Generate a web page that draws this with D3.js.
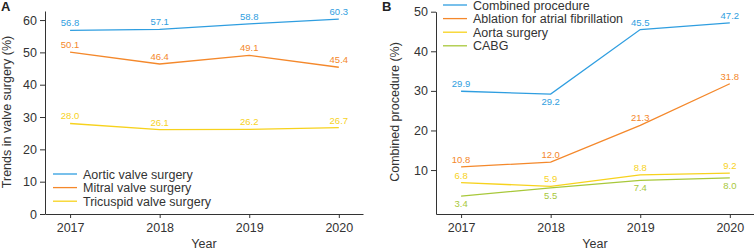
<!DOCTYPE html>
<html lang="en">
<head>
    <meta charset="UTF-8">
    <title>Valve surgery trends</title>
    <script src="https://d3js.org/d3.v7.min.js"></script>
    <style>
        body { margin: 0; background: #fff; }
        svg { font-family: "Liberation Sans", Arial, sans-serif; }
    </style>
</head>
<body>
    <div id="chart"></div>

    <script>
        // data
        const years = [2017, 2018, 2019, 2020];

        const aortic = [56.8, 57.1, 58.8, 60.3];
        const mitral = [50.1, 46.4, 49.1, 45.4];
        const tricuspid = [28.0, 26.1, 26.2, 26.7];

        const combined = [29.9, 29.2, 45.5, 47.2];
        const ablation = [10.8, 12.0, 21.3, 31.8];
        const aorta = [6.8, 5.9, 8.8, 9.2];
        const cabg = [3.4, 5.5, 7.4, 8.0];

        const ticksA = [0, 10, 20, 30, 40, 50, 60];
        const ticksB = [10, 20, 30, 40, 50];

        const blue = "#2f9ee0", orange = "#f4882b", yellow = "#f7d21d", green = "#a8c83a";

        const svg = d3.select("#chart")
            .append("svg")
            .attr("width", 754)
            .attr("height", 249);

        // label position: 1 = above, -1 = below
        function drawPanel(opt) {
            const g = svg.append("g");

            const x = d3.scaleLinear()
                .domain([2016.72, 2020.27])
                .range([opt.left, opt.right]);
            const y = d3.scaleLinear()
                .domain(opt.yDomain)
                .range([214, opt.top]);

            const xAxis = d3.axisBottom(x).tickValues(years).tickFormat(d3.format("d"))
                .tickSizeInner(4).tickSizeOuter(0).tickPadding(5);
            const yAxis = d3.axisLeft(y).tickValues(opt.ticks)
                .tickSizeInner(5).tickSizeOuter(0).tickPadding(3);

            const gx = g.append("g").attr("transform", "translate(0,214)").call(xAxis);
            const gy = g.append("g").attr("transform", "translate(" + opt.left + ",0)").call(yAxis);
            [gx, gy].forEach(a => {
                a.select(".domain").attr("stroke", "#333");
                a.selectAll(".tick line").attr("stroke", "#333");
                a.selectAll(".tick text").attr("fill", "#333").style("font-size", "12.5px");
            });

            const line = d3.line()
                .x((d, i) => x(years[i]))
                .y(d => y(d));

            opt.series.forEach(s => {
                g.append("path")
                    .attr("d", line(s.values))
                    .attr("fill", "none")
                    .attr("stroke", s.color)
                    .attr("stroke-width", 1.3);

                g.selectAll(null)
                    .data(s.values)
                    .enter()
                    .append("text")
                    .attr("x", (d, i) => x(years[i]))
                    .attr("y", (d, i) => (s.pos[i] > 0 ? y(d) - 4 : y(d) + 11))
                    .attr("text-anchor", "middle")
                    .attr("fill", s.color)
                    .style("font-size", "9.5px")
                    .text(d => d.toFixed(1));
            });

            // legend
            opt.series.forEach((s, i) => {
                const ly = opt.legendY + i * 13.6;
                g.append("line")
                    .attr("x1", opt.legendX).attr("x2", opt.legendX + 24)
                    .attr("y1", ly).attr("y2", ly)
                    .attr("stroke", s.color).attr("stroke-width", 1.3);
                g.append("text")
                    .attr("x", opt.legendX + 30)
                    .attr("y", ly + 4.5)
                    .attr("fill", "#333")
                    .style("font-size", "12.5px")
                    .text(s.name);
            });

            // titles
            g.append("text")
                .attr("x", (opt.left + opt.right) / 2)
                .attr("y", 247.5)
                .attr("text-anchor", "middle")
                .attr("fill", "#333")
                .style("font-size", "12.5px")
                .text("Year");

            g.append("text")
                .attr("transform", "translate(" + opt.titleX + ",112) rotate(-90)")
                .attr("text-anchor", "middle")
                .attr("fill", "#333")
                .style("font-size", "12.5px")
                .text(opt.yTitle);

            g.append("text")
                .attr("x", opt.letterX)
                .attr("y", 11)
                .attr("fill", "#222")
                .style("font-size", "13px")
                .style("font-weight", "bold")
                .text(opt.letter);
        }

        drawPanel({
            letter: "A", letterX: 1,
            left: 45, right: 363, top: 11,
            yDomain: [0, 62.8], ticks: ticksA,
            yTitle: "Trends in valve surgery (%)", titleX: 11,
            legendX: 53, legendY: 174,
            series: [
                { name: "Aortic valve surgery", values: aortic, color: blue, pos: [1, 1, 1, 1] },
                { name: "Mitral valve surgery", values: mitral, color: orange, pos: [1, 1, 1, 1] },
                { name: "Tricuspid valve surgery", values: tricuspid, color: yellow, pos: [1, 1, 1, 1] }
            ]
        });

        drawPanel({
            letter: "B", letterX: 382,
            left: 436, right: 754, top: 11.7,
            yDomain: [-1.1, 50], ticks: ticksB,
            yTitle: "Combined procedure (%)", titleX: 399,
            legendX: 443, legendY: 5,
            series: [
                { name: "Combined procedure", values: combined, color: blue, pos: [1, -1, 1, 1] },
                { name: "Ablation for atrial fibrillation", values: ablation, color: orange, pos: [1, 1, 1, 1] },
                { name: "Aorta surgery", values: aorta, color: yellow, pos: [1, 1, 1, 1] },
                { name: "CABG", values: cabg, color: green, pos: [-1, -1, -1, -1] }
            ]
        });
    </script>
</body>
</html>
